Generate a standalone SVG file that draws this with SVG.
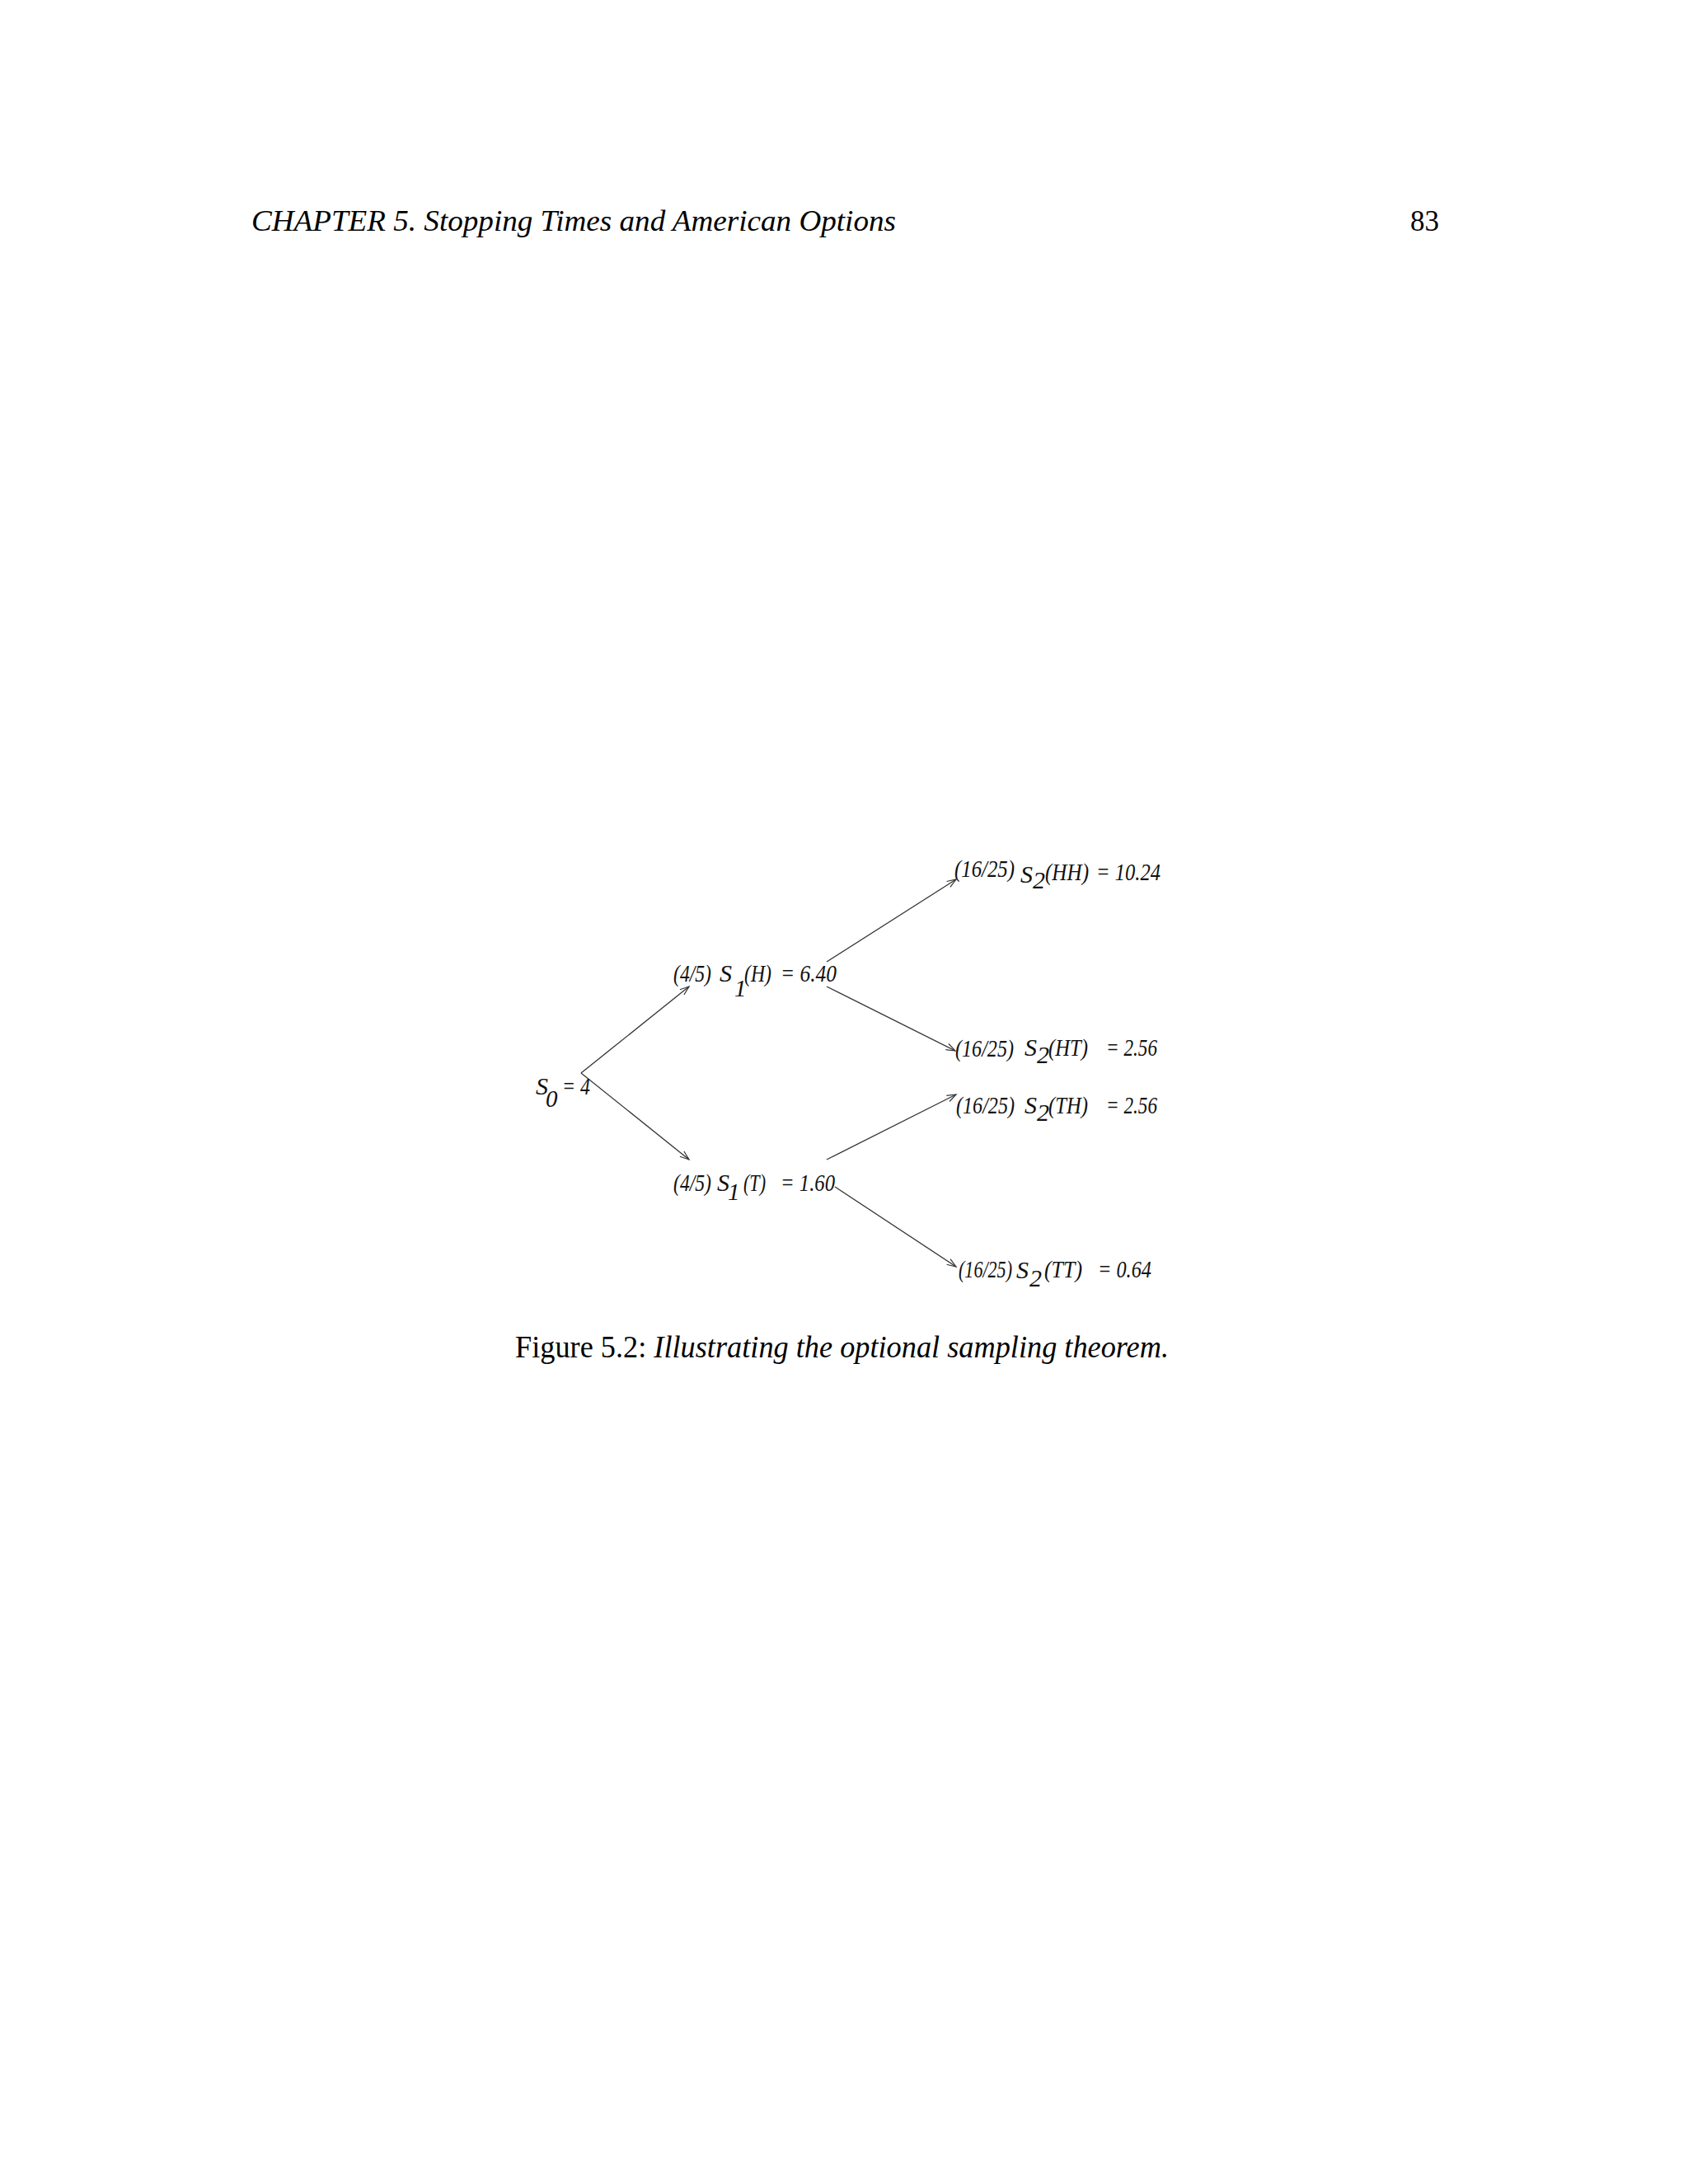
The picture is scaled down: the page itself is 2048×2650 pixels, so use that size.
<svg xmlns="http://www.w3.org/2000/svg" width="2048" height="2650" viewBox="0 0 2048 2650">
<defs>
<marker id="arr" markerUnits="userSpaceOnUse" markerWidth="16" markerHeight="12" refX="12" refY="6" orient="auto" overflow="visible">
<path d="M1,2 L12,6 L1,10" fill="none" stroke="#333" stroke-width="1.2"/>
</marker>
<style>
.hdr{font-family:"Liberation Serif",serif;font-size:36px;fill:#000}
.it{font-style:italic}
.cap{font-family:"Liberation Serif",serif;font-size:37px;fill:#000}
.lbl{font-family:"Liberation Serif",serif;font-style:italic;font-size:29px;fill:#111}
.big{font-size:30px}
.edge{stroke:#333;stroke-width:1.3;fill:none;marker-end:url(#arr)}
</style>
</defs>
<rect width="2048" height="2650" fill="#fff"/>
<text class="hdr it" x="305" y="280" textLength="782" lengthAdjust="spacingAndGlyphs">CHAPTER 5. Stopping Times and American Options</text>
<text class="hdr" x="1711" y="280" textLength="35" lengthAdjust="spacingAndGlyphs">83</text>

<g id="connectors">
<line class="edge" x1="705" y1="1302" x2="836" y2="1197"/>
<line class="edge" x1="705" y1="1302" x2="836" y2="1407"/>
<line class="edge" x1="1003" y1="1167" x2="1160" y2="1067"/>
<line class="edge" x1="1003" y1="1197" x2="1159" y2="1275"/>
<line class="edge" x1="1003" y1="1407" x2="1160" y2="1328"/>
<line class="edge" x1="1013" y1="1440" x2="1160" y2="1537"/>
</g>

<g id="s0">
<text class="lbl big" x="650" y="1328">S</text>
<text class="lbl" x="662" y="1343">0</text>
<text class="lbl" x="682" y="1328" textLength="34" lengthAdjust="spacingAndGlyphs">= 4</text>
</g>
<g id="s1h">
<text class="lbl" x="817" y="1191" textLength="46" lengthAdjust="spacingAndGlyphs">(4/5)</text>
<text class="lbl big" x="873" y="1191">S</text>
<text class="lbl" x="891" y="1209">1</text>
<text class="lbl" x="903" y="1191" textLength="33" lengthAdjust="spacingAndGlyphs">(H)</text>
<text class="lbl" x="947" y="1191" textLength="68" lengthAdjust="spacingAndGlyphs">= 6.40</text>
</g>
<g id="s1t">
<text class="lbl" x="817" y="1445" textLength="46" lengthAdjust="spacingAndGlyphs">(4/5)</text>
<text class="lbl big" x="870" y="1445">S</text>
<text class="lbl" x="883" y="1456">1</text>
<text class="lbl" x="902" y="1445" textLength="27" lengthAdjust="spacingAndGlyphs">(T)</text>
<text class="lbl" x="947" y="1445" textLength="66" lengthAdjust="spacingAndGlyphs">= 1.60</text>
</g>
<g id="s2hh">
<text class="lbl" x="1158" y="1064" textLength="73" lengthAdjust="spacingAndGlyphs">(16/25)</text>
<text class="lbl big" x="1238" y="1071">S</text>
<text class="lbl big" x="1253" y="1078">2</text>
<text class="lbl" x="1268" y="1068" textLength="53" lengthAdjust="spacingAndGlyphs">(HH)</text>
<text class="lbl" x="1330" y="1068" textLength="78" lengthAdjust="spacingAndGlyphs">= 10.24</text>
</g>
<g id="s2ht">
<text class="lbl" x="1159" y="1282" textLength="71" lengthAdjust="spacingAndGlyphs">(16/25)</text>
<text class="lbl big" x="1243" y="1281">S</text>
<text class="lbl big" x="1258" y="1290">2</text>
<text class="lbl" x="1272" y="1281" textLength="48" lengthAdjust="spacingAndGlyphs">(HT)</text>
<text class="lbl" x="1342" y="1281" textLength="62" lengthAdjust="spacingAndGlyphs">= 2.56</text>
</g>
<g id="s2th">
<text class="lbl" x="1160" y="1351" textLength="71" lengthAdjust="spacingAndGlyphs">(16/25)</text>
<text class="lbl big" x="1243" y="1351">S</text>
<text class="lbl big" x="1258" y="1360">2</text>
<text class="lbl" x="1272" y="1351" textLength="48" lengthAdjust="spacingAndGlyphs">(TH)</text>
<text class="lbl" x="1342" y="1351" textLength="62" lengthAdjust="spacingAndGlyphs">= 2.56</text>
</g>
<g id="s2tt">
<text class="lbl" x="1163" y="1550" textLength="65" lengthAdjust="spacingAndGlyphs">(16/25)</text>
<text class="lbl big" x="1233" y="1551">S</text>
<text class="lbl big" x="1249" y="1561">2</text>
<text class="lbl" x="1267" y="1550" textLength="46" lengthAdjust="spacingAndGlyphs">(TT)</text>
<text class="lbl" x="1332" y="1550" textLength="65" lengthAdjust="spacingAndGlyphs">= 0.64</text>
</g>

<text class="cap" x="625" y="1647" textLength="793" lengthAdjust="spacingAndGlyphs">Figure 5.2: <tspan class="it">Illustrating the optional sampling theorem.</tspan></text>
</svg>
